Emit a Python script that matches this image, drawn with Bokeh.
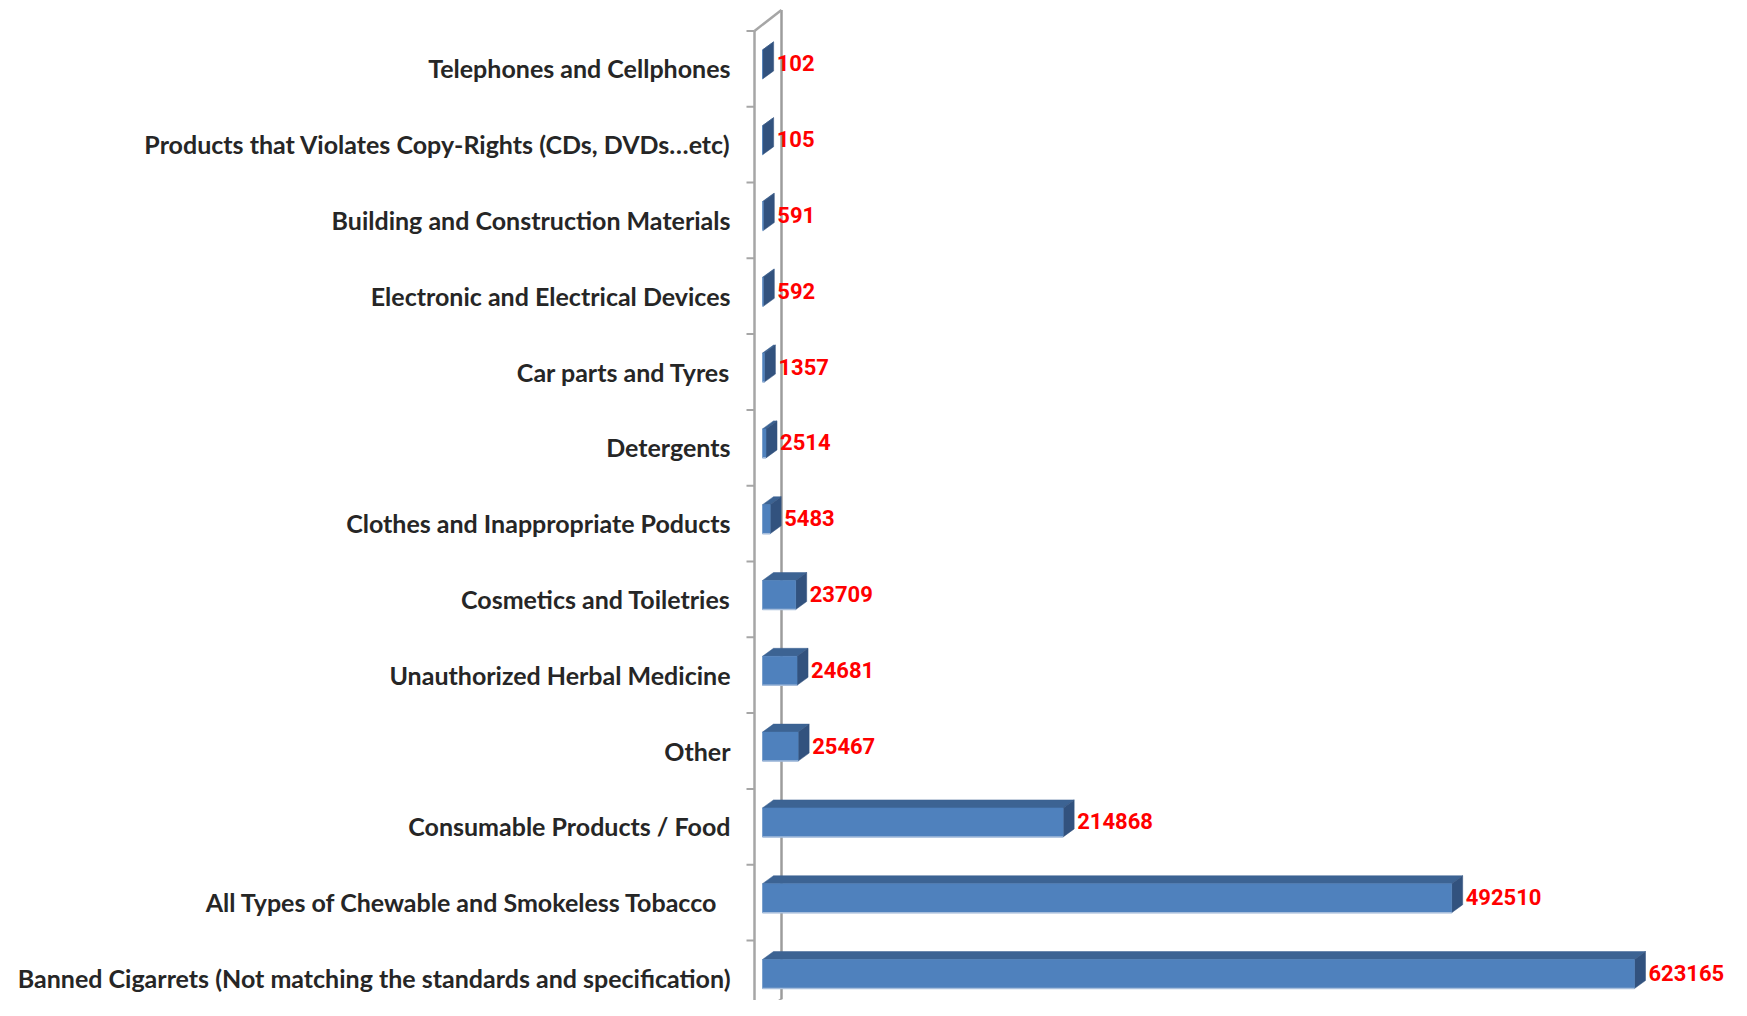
from bokeh.plotting import figure
from bokeh.models import Range1d, FixedTicker, ColumnDataSource
from bokeh.embed import file_html
from bokeh.resources import INLINE
from bokeh.core.properties import value

# ---------------- data ----------------
categories = [
    "Banned Cigarrets (Not matching the standards and specification)",
    "All Types of Chewable and  Smokeless Tobacco ",
    "Consumable Products / Food",
    "Other",
    "Unauthorized Herbal Medicine",
    "Cosmetics and Toiletries",
    "Clothes and Inappropriate Poducts",
    "Detergents",
    "Car parts and Tyres",
    "Electronic and Electrical Devices",
    "Building and Construction Materials",
    "Products that Violates Copy-Rights (CDs, DVDs\u2026etc)",
    "Telephones and Cellphones",
]
values = [623165, 492510, 214868, 25467, 24681, 23709, 5483, 2514, 1357, 592, 591, 105, 102]

# ---------------- layout constants (pixels) ----------------
W, H = 1731, 1000
FRAME_LEFT = 740
ZERO_OFF = 22            # px from frame left to value 0
XSCALE = 872 / 623165    # px per unit
ROW_PX = 75.8
LABEL0_PX = 22.5         # px from bottom of frame to first label centre
BAR_SHIFT = 4            # bar centre above label centre (px)
BAR_H = 29
DX, DY = 11, 8           # 3D depth of bars (px)

ux = 1 / XSCALE          # data units per px (x)
uy = 1 / ROW_PX          # data units per px (y)

x0 = -ZERO_OFF * ux
x1 = x0 + (W - FRAME_LEFT) * ux
y0 = -LABEL0_PX * uy
y1 = y0 + H * uy

p = figure(width=W, height=H, x_range=Range1d(x0, x1), y_range=Range1d(y0, y1),
           output_backend="svg", toolbar_location=None,
           min_border_left=FRAME_LEFT, min_border_right=0,
           min_border_top=0, min_border_bottom=0)
p.xaxis.visible = False
p.grid.visible = False
p.outline_line_color = None
p.background_fill_color = "white"
p.border_fill_color = "white"

n = len(categories)
p.yaxis.ticker = FixedTicker(ticks=list(range(n)))
p.yaxis.major_label_overrides = {i: c for i, c in enumerate(categories)}
p.yaxis.axis_line_color = None
p.yaxis.major_tick_line_color = None
p.yaxis.minor_tick_line_color = None
p.yaxis.major_tick_out = 0
p.yaxis.major_tick_in = 0
p.yaxis.major_label_standoff = 10
p.yaxis.major_label_text_font = "Lato"
p.yaxis.major_label_text_font_style = "bold"
p.yaxis.major_label_text_font_size = "25px"
p.yaxis.major_label_text_color = "#262626"

centers = [i + BAR_SHIFT * uy for i in range(n)]

# ---------------- wall ----------------
tick_top = [c + 33.5 * uy for c in centers]
tick_bot = centers[0] - 42.3 * uy
ticks = [tick_bot] + tick_top
wall_x = -8 * ux
back_x = 19 * ux
wall_col = "#A6A6A6"
p.segment(x0=[back_x], y0=[tick_bot + 17 * uy], x1=[back_x], y1=[ticks[-1] + 21 * uy],
          line_color="#9C9C9C", line_width=2.5)
p.segment(x0=[wall_x], y0=[tick_bot], x1=[wall_x], y1=[ticks[-1]],
          line_color=wall_col, line_width=2.5)
p.segment(x0=[wall_x, wall_x], y0=[ticks[-1], tick_bot],
          x1=[back_x, back_x], y1=[ticks[-1] + 21 * uy, tick_bot + 17 * uy],
          line_color=wall_col, line_width=2.5)
p.segment(x0=[-16 * ux] * len(ticks), y0=ticks, x1=[wall_x] * len(ticks), y1=ticks,
          line_color=wall_col, line_width=2)

# ---------------- bars ----------------
front_xs, front_ys, top_xs, top_ys, side_xs, side_ys = [], [], [], [], [], []
for v, c in zip(values, centers):
    b = c - BAR_H / 2 * uy
    t = c + BAR_H / 2 * uy
    dx, dy = DX * ux, DY * uy
    front_xs.append([0, v, v, 0]); front_ys.append([b, b, t, t])
    top_xs.append([0, v, v + dx, dx]); top_ys.append([t, t, t + dy, t + dy])
    side_xs.append([v, v + dx, v + dx, v]); side_ys.append([b, b + dy, t + dy, t])

p.patches(xs=top_xs, ys=top_ys, fill_color="#3C6393", line_color="#3C6393", line_width=0.5)
p.patches(xs=side_xs, ys=side_ys, fill_color="#32527E", line_color="#32527E", line_width=0.5)
p.patches(xs=front_xs, ys=front_ys, fill_color="#4F81BD", line_color="#4F81BD", line_width=0.5)
# light lower edge of front faces
p.segment(x0=[0] * n, y0=[c - BAR_H / 2 * uy for c in centers], x1=values,
          y1=[c - BAR_H / 2 * uy for c in centers], line_color="#A7BEDC", line_width=1.5)

# ---------------- value labels ----------------
src = ColumnDataSource(dict(x=[v + 14 * ux for v in values],
                            y=[c + 1 * uy for c in centers],
                            t=[str(v) for v in values]))
p.text(x="x", y="y", text="t", source=src, text_color="#FF0000",
       text_font=value("Roboto"), text_font_style="bold", text_font_size="22px",
       text_baseline="middle", text_align="left")

open("out.html", "w").write(file_html(p, INLINE))
